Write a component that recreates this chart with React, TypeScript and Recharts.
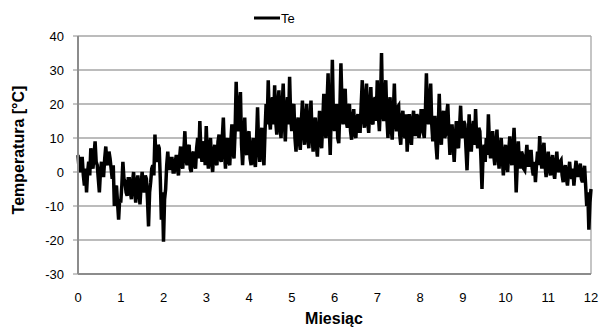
import React from 'react'
import { LineChart, Line, XAxis, YAxis, CartesianGrid, ReferenceLine } from 'recharts'

if (typeof document !== 'undefined') document.body.style.margin = '0'

// sampling step of the read-off series, in months
const STEP = 0.025

// outdoor temperature Te [°C], read every 0.025 month from the picture
const teValues = [
  // month 0
  5, 1, 0, 4, 4, -1, -4, 1, -6, 0, 3, -1, 7, 2, 1, 5, 9, 3, 2, -2,
  -6, 0, 3, -1, -1, 4, 7.5, 3, 2, 6, 4, 1, -2, 2, -10, -5, -4, -9, -14, -8,
  // month 1
  -9, -4, 3, -2, -3, -6, -7, -2, -2, -6, -8, -3, 0, -5, -9, -3, -1, -6, -9.5, -4,
  0, -4, -6, -1, -2, -8, -16, -6, -3, 1, 2, -1, 11, 4, 3, 8, 7, -2, -14, -6,
  // month 2
  -20.5, -8, -5, 2, 6, 1, 1, 4, 4, 0, 0, 3, 5, 1, -1, 4, 7.5, 2, 1, 6,
  12, 4, 2, 7, 8, 1, 0, 5, 6, 2, 1, 7, 10, 4, 15, 6, 3, 8, 9, 2,
  // month 3
  13.5, 5, 1, 7, 10, 3, 0, 6, 8, 3, 2, 9, 11, 4, 3, 10, 16, 6, 1, 8,
  10, 3, 2, 9, 14, 6, 4, 12, 26.5, 15, 12, 20, 23.5, 8, 2, 9, 16, 6, 5, 11,
  // month 4
  12, 4, 2, 8, 10, 3, 1.5, 9, 19, 8, 3, 10, 13, 5, 2, 12, 20, 14, 27, 16,
  12.5, 20, 22, 14, 25.5, 15, 11, 20, 24, 13, 10, 19, 26, 15, 9, 18, 22, 14, 28, 16,
  // month 5
  12, 19, 20, 10, 6, 14, 16, 9, 6.5, 15, 21, 12, 8, 16, 20, 10, 7, 15, 21, 11,
  6, 14, 16, 8, 4.5, 12, 18, 9, 7, 15, 23, 12, 10, 20, 29, 14, 5, 18, 33, 16,
  // month 6
  12, 18, 20, 10, 8.5, 18, 32, 20, 14, 22, 24.5, 15, 13, 19, 20, 12, 9.5, 16, 18.5, 11,
  10, 16, 17, 12, 12, 20, 27, 16, 13, 22, 26, 15, 11.5, 19, 25, 15, 14, 21, 22, 15,
  // month 7
  27, 17, 12, 20, 35, 18, 15, 22, 27, 16, 10, 19, 22, 13, 9.5, 17, 26, 15, 12, 19,
  19.5, 11, 8, 16, 18, 11, 10, 17, 6, 13, 17, 10, 8, 15, 18, 11, 11, 17, 16, 10,
  // month 8
  12, 18, 18, 12, 10, 17, 29, 17, 14, 21, 26, 14, 9, 16, 16, 8, 3.7, 12, 23, 13,
  8, 16, 18, 10, 11, 17, 20, 12, 5, 12, 14, 8, 3, 10, 15, 8, 7, 13, 19.5, 11,
  // month 9
  10, 15, 14, 7, 0.5, 9, 17, 9, 6, 12, 15, 8, 18.5, 10, 7, 13, 12, 4, -5, 5,
  8, 3, 10, 5, 17, 8, 4, 10, 12, 5, 2, 8, 12.5, 5, 1, 7, 10, 4, -1, 5,
  // month 10
  8, 2, 0, 6, 10.5, 4, 2, 7, 13, 5, -6, 2, 9, 3, 1, 6, 5, 1, 0.5, 4,
  8, 2, 2, 6, 6, 1, -1, 3, -3, 2, 6, 2, 10.6, 4, 1, 6, 8.6, 2, -1.5, 3,
  // month 11
  6, 1, -1, 3, 5, 0, -2, 2, 6, 1, 0, 3, 3.5, -1, -3, 1, 2, -2, -4, 0,
  3, -1, -2, 1, -4, 0, 3.3, -1, -1, 1, 2.5, -2, -3, 0, 1.8, -4, -10, -6, -17, -9,
  -5,
]

const monthTicks = [0, 1, 2, 3, 4, 5, 6, 7, 8, 9, 10, 11, 12]
const tempTicks = [-30, -20, -10, 0, 10, 20, 30, 40]

const data = teValues.map((te, i) => ({ m: +(i * STEP).toFixed(3), te }))

const font = '"Liberation Sans", Arial, sans-serif'

export default function App() {
  return (
    <div style={{ width: 602, height: 335, background: '#fff', position: 'relative', fontFamily: font }}>
      <LineChart width={602} height={335} data={data} margin={{ top: 36, right: 11, bottom: 21, left: 18 }}>
        <CartesianGrid vertical={false} stroke="#a6a6a6" strokeWidth={1.3} />
        <XAxis
          dataKey="m"
          type="number"
          domain={[0, 12]}
          ticks={monthTicks}
          tickLine={false}
          axisLine={{ stroke: '#8c8c8c', strokeWidth: 2 }}
          tick={{ fill: '#000', fontSize: 13, fontFamily: font }}
          tickMargin={13}
          height={40}
        />
        <YAxis
          type="number"
          domain={[-30, 40]}
          ticks={tempTicks}
          width={60}
          tickSize={5}
          tickMargin={9}
          tickLine={{ stroke: '#8c8c8c' }}
          axisLine={{ stroke: '#8c8c8c', strokeWidth: 2 }}
          tick={{ fill: '#000', fontSize: 13, fontFamily: font }}
        />
        <ReferenceLine x={12} stroke="#a6a6a6" strokeWidth={1.3} />
        <Line type="linear" dataKey="te" stroke="#000" strokeWidth={3.5} dot={false} isAnimationActive={false} />
      </LineChart>
      {/* legend and axis titles */}
      <svg width={602} height={335} style={{ position: 'absolute', left: 0, top: 0, pointerEvents: 'none' }}>
        <line x1={254} y1={18} x2={280} y2={18} stroke="#000" strokeWidth={3} />
        <text x={281} y={23} fontSize={13} fontFamily={font} fill="#000">Te</text>
        <text x={334} y={324} fontSize={16} fontWeight="bold" fontFamily={font} fill="#000" textAnchor="middle">Miesiąc</text>
        <text transform="translate(24,150) rotate(-90)" fontSize={16} fontWeight="bold" fontFamily={font} fill="#000" textAnchor="middle">Temperatura [°C]</text>
      </svg>
    </div>
  )
}
